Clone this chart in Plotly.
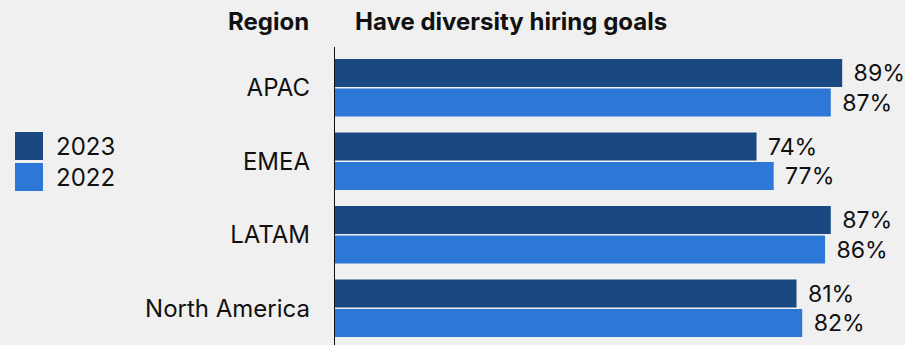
import plotly.graph_objects as go

regions = ["APAC", "EMEA", "LATAM", "North America"]
series_names = ["2023", "2022"]
values_2023 = [89, 74, 87, 81]
values_2022 = [87, 77, 86, 82]
colors = ["#1B4880", "#2D78D7"]

W, H = 905, 345
ML, MT = 334, 51
PW, PH = W - ML, H - MT
FONT = "Inter"
FS = 24

fig = go.Figure()
for name, vals, col in zip(series_names, [values_2023, values_2022], colors):
    fig.add_trace(go.Bar(
        y=regions, x=vals, name=name, orientation="h",
        marker=dict(color=col, line=dict(width=0)),
        texttemplate="\u2009\u2009%{x}%", textposition="outside",
        textfont=dict(family=FONT, size=FS, color="#111111"),
        cliponaxis=False, showlegend=False,
    ))

def px_x(p):
    return (p - ML) / PW

def px_y(p):
    return (H - p) / PH

shapes = [dict(type="line", xref="x", yref="paper", x0=0, x1=0,
               y0=0, y1=px_y(47), line=dict(color="#111111", width=2))]
annotations = [
    dict(text="<b>Region</b>", xref="paper", yref="paper", x=px_x(311), y=px_y(21),
         xanchor="right", yanchor="middle", showarrow=False,
         font=dict(family=FONT, size=FS, color="#111111")),
    dict(text="<b>Have diversity hiring goals</b>", xref="paper", yref="paper",
         x=px_x(353), y=px_y(21), xanchor="left", yanchor="middle", showarrow=False,
         font=dict(family=FONT, size=FS, color="#111111")),
]
legend_tops = [132, 163]
for name, col, top in zip(series_names, colors, legend_tops):
    shapes.append(dict(type="rect", xref="paper", yref="paper",
                       x0=px_x(15), x1=px_x(43), y0=px_y(top + 28), y1=px_y(top),
                       fillcolor=col, line=dict(width=0)))
    annotations.append(dict(text=name, xref="paper", yref="paper", x=px_x(54),
                            y=px_y(top + 14), xanchor="left", yanchor="middle",
                            showarrow=False,
                            font=dict(family=FONT, size=FS, color="#111111")))

fig.update_layout(
    width=W, height=H,
    margin=dict(l=ML, r=0, t=MT, b=0, pad=0),
    paper_bgcolor="#F0F0F0", plot_bgcolor="#F0F0F0",
    barmode="group", bargap=0.2, bargroupgap=0.05,
    xaxis=dict(range=[0, 100], showgrid=False, zeroline=False,
               showticklabels=False, showline=False, fixedrange=True),
    yaxis=dict(autorange="reversed", showgrid=False, zeroline=False, showline=False,
               ticks="", ticklabelstandoff=23,
               tickfont=dict(family=FONT, size=FS, color="#111111")),
    shapes=shapes, annotations=annotations,
    showlegend=False,
)

fig.write_html("out.html")
